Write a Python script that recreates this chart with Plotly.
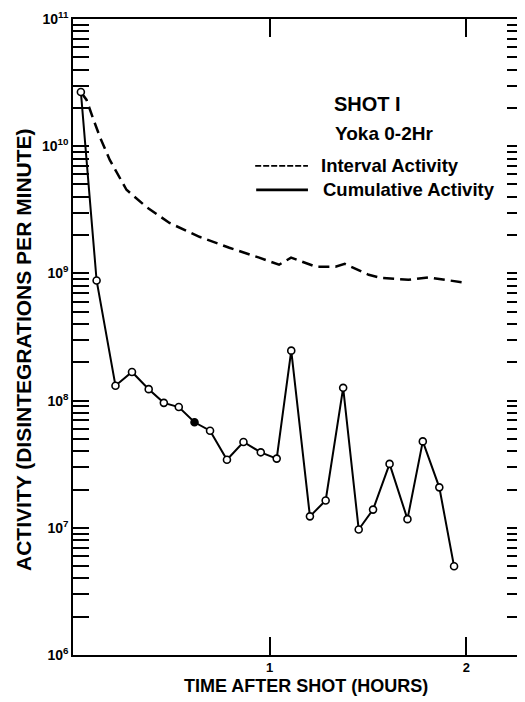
import plotly.graph_objects as go

# Readings from the scanned chart (time in hours, activity in d/min)
solid_t = [0.04, 0.12, 0.216, 0.30, 0.385, 0.462, 0.538, 0.618, 0.697, 0.783, 0.867, 0.955,
           1.036, 1.110, 1.205, 1.285, 1.374, 1.453, 1.526, 1.610, 1.701, 1.779, 1.863, 1.938]
solid_act = [2.67e10, 8.8e8, 1.31e8, 1.68e8, 1.23e8, 9.6e7, 8.9e7, 6.75e7, 5.8e7, 3.43e7, 4.73e7, 3.92e7,
             3.5e7, 2.47e8, 1.23e7, 1.64e7, 1.26e8, 9.7e6, 1.39e7, 3.18e7, 1.17e7, 4.78e7, 2.08e7, 4.98e6]
filled_point = 7  # index of the one solid (filled) marker

dash_t = [0.04, 0.069, 0.101, 0.137, 0.187, 0.272, 0.373, 0.491, 0.643, 0.795, 0.947,
          1.048, 1.109, 1.234, 1.335, 1.382, 1.504, 1.570, 1.706, 1.808, 1.892, 1.985]
dash_act = [2.67e10, 2.31e10, 1.67e10, 1.18e10, 7.8e9, 4.54e9, 3.33e9, 2.49e9, 1.94e9, 1.59e9, 1.33e9,
            1.17e9, 1.33e9, 1.13e9, 1.13e9, 1.19e9, 9.75e8, 9.2e8, 8.9e8, 9.3e8, 8.9e8, 8.5e8]

x_ticks = [1, 2]
x_ticktext = ["1", "2"]
decades = [6, 7, 8, 9, 10, 11]
legend_labels = ["Interval Activity", "Cumulative Activity"]

FONT = "Liberation Sans, Arial, sans-serif"
PAGE_MARGIN = 8  # default body margin of the html page

y_tickvals = [10 ** d for d in decades]
y_ticktext = [f"<b>10<sup>{d}</sup></b>" for d in decades]
y_minorvals = [m * 10 ** d for d in decades[:-1] for m in range(2, 10)]

fig = go.Figure()

fig.add_trace(go.Scatter(
    x=dash_t, y=dash_act, mode="lines",
    line=dict(color="black", width=2.5, dash="11px,6px"),
    showlegend=False, hoverinfo="skip"
))

fig.add_trace(go.Scatter(
    x=solid_t, y=solid_act, mode="lines+markers",
    line=dict(color="black", width=2),
    marker=dict(
        symbol="circle", size=7,
        color=["black" if i == filled_point else "white" for i in range(len(solid_t))],
        line=dict(color="black", width=1.6)
    ),
    showlegend=False
))

# plot area on screen (pixels of the 525x702 page)
px_left, px_right, px_top, px_bottom = 73, 525, 19, 655.5


def xp(px):
    return (px - px_left) / (px_right - px_left)


def yp(py):
    return (px_bottom - py) / (px_bottom - px_top)


# Legend drawn by hand, as on the original sheet
fig.add_shape(type="line", xref="paper", yref="paper",
              x0=xp(256), x1=xp(309), y0=yp(166), y1=yp(166),
              line=dict(color="black", width=1.8, dash="6px,2px"))
fig.add_shape(type="line", xref="paper", yref="paper",
              x0=xp(257), x1=xp(309), y0=yp(190), y1=yp(190),
              line=dict(color="black", width=2.6))

texts = [("SHOT I", 333, 104, 20), ("Yoka 0-2Hr", 334, 134, 19),
         (legend_labels[0], 320, 166, 18.5), (legend_labels[1], 322, 190, 18.5)]
for txt, x, y, size in texts:
    fig.add_annotation(text=f"<b>{txt}</b>", xref="paper", yref="paper",
                       x=xp(x), y=yp(y), xanchor="left", yanchor="middle",
                       showarrow=False, font=dict(family=FONT, size=size, color="black"))

fig.add_annotation(text="<b>TIME AFTER SHOT (HOURS)</b>", xref="paper", yref="paper",
                   x=xp(307), y=yp(687), xanchor="center", yanchor="middle",
                   showarrow=False, font=dict(family=FONT, size=18, color="black"))
fig.add_annotation(text="<b>ACTIVITY (DISINTEGRATIONS PER MINUTE)</b>", xref="paper", yref="paper",
                   x=xp(24), y=yp(350), xanchor="center", yanchor="middle", textangle=-90,
                   showarrow=False, font=dict(family=FONT, size=21, color="black"))

fig.update_xaxes(
    range=[0, (px_right - px_left) / 197.5],
    tickvals=x_ticks, ticktext=[f"<b>{t}</b>" for t in x_ticktext],
    ticks="inside", ticklen=18, tickwidth=1.5, tickcolor="black",
    showline=True, linecolor="black", linewidth=1.5, mirror="ticks",
    showgrid=False, zeroline=False,
    tickfont=dict(family=FONT, size=13, color="black")
)
fig.update_yaxes(
    type="log", range=[6, 11],
    tickvals=y_tickvals, ticktext=y_ticktext,
    ticks="inside", ticklen=16, tickwidth=1.5, tickcolor="black",
    minor=dict(tickvals=y_minorvals, ticks="inside", ticklen=16, tickwidth=1.5,
               tickcolor="black", showgrid=False),
    showline=True, linecolor="black", linewidth=1.5, mirror="ticks",
    showgrid=False, zeroline=False,
    tickfont=dict(family=FONT, size=14, color="black")
)

fig_w = 525 - PAGE_MARGIN
fig_h = 702 - PAGE_MARGIN
fig.update_layout(
    width=fig_w, height=fig_h,
    margin=dict(l=px_left - PAGE_MARGIN, r=fig_w - (px_right - PAGE_MARGIN),
                t=px_top - PAGE_MARGIN, b=fig_h - (px_bottom - PAGE_MARGIN)),
    paper_bgcolor="white", plot_bgcolor="white",
    showlegend=False
)

fig.write_html("out.html")
